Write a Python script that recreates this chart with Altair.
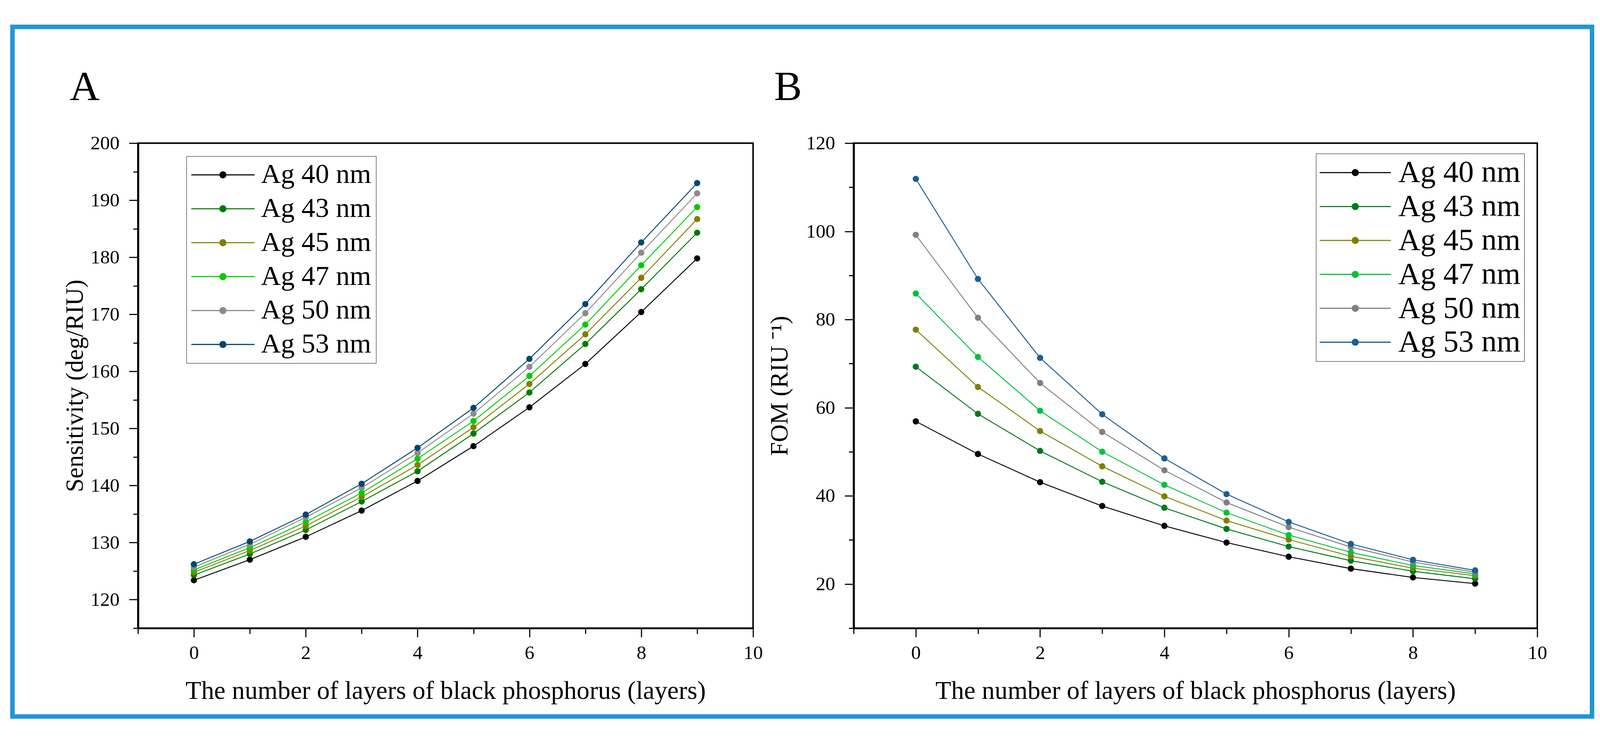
import altair as alt
import pandas as pd

layers = [0, 1, 2, 3, 4, 5, 6, 7, 8, 9]
series = ["Ag 40 nm", "Ag 43 nm", "Ag 45 nm", "Ag 47 nm", "Ag 50 nm", "Ag 53 nm"]

# Panel A: sensitivity (deg/RIU)
sens_40 = [123.4, 127.0, 131.0, 135.6, 140.8, 146.9, 153.7, 161.3, 170.4, 179.8]
sens_43 = [124.3, 128.0, 132.2, 137.2, 142.5, 149.1, 156.3, 164.8, 174.4, 184.3]
sens_45 = [124.8, 128.6, 132.9, 138.0, 143.6, 150.2, 157.8, 166.5, 176.4, 186.7]
sens_47 = [125.2, 129.1, 133.6, 138.7, 144.7, 151.3, 159.2, 168.2, 178.6, 188.8]
sens_50 = [125.7, 129.7, 134.4, 139.6, 145.7, 152.6, 160.8, 170.2, 180.8, 191.2]
sens_53 = [126.2, 130.2, 134.9, 140.3, 146.6, 153.6, 162.2, 171.8, 182.6, 193.0]

# Panel B: FOM (RIU^-1)
fom_40 = [56.9, 49.5, 43.1, 37.7, 33.2, 29.4, 26.2, 23.5, 21.5, 20.1]
fom_43 = [69.3, 58.6, 50.2, 43.2, 37.3, 32.5, 28.5, 25.3, 22.9, 21.2]
fom_45 = [77.7, 64.7, 54.7, 46.7, 39.9, 34.4, 30.1, 26.3, 23.6, 21.9]
fom_47 = [85.9, 71.5, 59.3, 50.0, 42.5, 36.2, 31.1, 27.2, 24.2, 22.3]
fom_50 = [99.2, 80.4, 65.6, 54.5, 45.8, 38.5, 32.9, 28.4, 25.0, 22.7]
fom_53 = [111.9, 89.2, 71.3, 58.5, 48.5, 40.4, 34.1, 29.1, 25.5, 23.1]

x_major = [0, 2, 4, 6, 8, 10]
x_minor = [-1, 1, 3, 5, 7, 9]
ya_major = [120, 130, 140, 150, 160, 170, 180, 190, 200]
ya_minor = [115, 125, 135, 145, 155, 165, 175, 185, 195]
yb_major = [20, 40, 60, 80, 100, 120]
yb_minor = [10, 30, 50, 70, 90, 110]

colors_a = ["#000000", "#007A00", "#808000", "#00CC00", "#8C8C8C", "#00476E"]
colors_b = ["#000000", "#007A1E", "#808000", "#00C040", "#808080", "#1A5E94"]

FONT = "Liberation Serif"
X_TITLE = "The number of layers of black phosphorus (layers)"


def long_df(cols):
    rows = []
    for name, vals in zip(series, cols):
        for l, v in zip(layers, vals):
            rows.append({"layer": l, "value": v, "series": name})
    return pd.DataFrame(rows)


def sym_path(unit_px, half_len_px, radius_px, half_thick_px):
    L = round(half_len_px / unit_px, 4)
    r = round(radius_px / unit_px, 4)
    t = round(half_thick_px / unit_px, 4)
    return (f"M{-L},{-t}H{-r}V{t}H{-L}Z M{r},{-t}H{L}V{t}H{r}Z "
            f"M{-r},0A{r},{r},0,1,0,{r},0A{r},{r},0,1,0,{-r},0Z")


def legend_kw(x, y, font_size, half_len, gap, row_pad, pad):
    s = font_size  # symbol box = label height
    return dict(title=None, orient="none", legendX=x, legendY=y,
                symbolType=sym_path(s / 2, half_len, 9.5, 1.5), symbolSize=s * s,
                symbolOffset=half_len - s / 2, symbolStrokeWidth=0, symbolOpacity=1,
                labelFont=FONT, labelFontSize=font_size,
                labelOffset=half_len + gap - s / 2, labelLimit=1000,
                rowPadding=row_pad, padding=pad, strokeColor="black",
                fillColor="white", labelColor="black")


def panel(df, ydom, ymaj, ymin, ytitle, ytitle_x, colors, leg, letter, letter_x,
          width, height, frame=None):
    xs = alt.Scale(domain=[-1, 10], nice=False, zero=False)
    ys = alt.Scale(domain=ydom, nice=False, zero=False)
    base = alt.Chart(df)
    line = base.mark_line(strokeWidth=2.5).encode(
        x=alt.X("layer:Q", scale=xs, axis=alt.Axis(
            values=x_major, title=X_TITLE, orient="bottom", grid=False,
            tickSize=24, tickWidth=3, domainWidth=4.5, labelFontSize=52,
            labelPadding=17, titleFontSize=69, titleY=168, titleBaseline="middle",
            labelFlush=False, labelOverlap=False, titleFontWeight="normal")),
        y=alt.Y("value:Q", scale=ys, axis=alt.Axis(
            values=ymaj, title=ytitle, orient="left", grid=False,
            tickSize=24, tickWidth=3, domainWidth=5.5, labelFontSize=52,
            labelPadding=26, titleFontSize=66, titleX=ytitle_x,
            titleBaseline="middle", labelFlush=False, labelOverlap=False,
            titleFontWeight="normal")),
        stroke=alt.Stroke("series:N", scale=alt.Scale(range=colors), legend=None),
        order=alt.Order("layer:Q"),
    )
    pts = base.mark_circle(size=280, opacity=1).encode(
        x=alt.X("layer:Q", scale=xs, axis=alt.Axis(
            values=x_minor, labels=False, domain=False, tickSize=15, tickWidth=3,
            title=None, orient="bottom", grid=False)),
        y=alt.Y("value:Q", scale=ys, axis=alt.Axis(
            values=ymin, labels=False, domain=False, tickSize=13, tickWidth=3,
            title=None, orient="left", grid=False)),
        color=alt.Color("series:N", scale=alt.Scale(domain=series, range=colors),
                        legend=alt.Legend(**leg)),
    )
    one = pd.DataFrame({"t": [letter]})
    txt = alt.Chart(one).mark_text(fontSize=112, font=FONT, align="center",
                                   baseline="alphabetic", color="black").encode(
        x=alt.value(letter_x), y=alt.value(-116), text="t:N")
    parts = []
    if frame is not None:
        fr = alt.Chart(pd.DataFrame({"f": [0]})).mark_rect(
            fillOpacity=0, stroke="#2196D3", strokeWidth=12).encode(
            x=alt.value(frame[0]), x2=alt.value(frame[1]),
            y=alt.value(frame[2]), y2=alt.value(frame[3]))
        parts.append(fr)
    parts += [line, pts, txt]
    return alt.layer(*parts).resolve_axis(x="independent", y="independent").properties(
        width=width, height=height)


leg_a = legend_kw(130, 35, 74, 85, 17, 17, 13)
leg_b = legend_kw(1241, 28, 82, 95.5, 20, 9, 10)

pa = panel(long_df([sens_40, sens_43, sens_45, sens_47, sens_50, sens_53]),
           [115, 200], ya_major, ya_minor, "Sensitivity (deg/RIU)", -169, colors_a,
           leg_a, "A", -143, 1651, 1301, frame=(-337, 3903, -312, 1538))
pb = panel(long_df([fom_40, fom_43, fom_45, fom_47, fom_50, fom_53]),
           [10, 120], yb_major, yb_minor, "FOM (RIU \u207b\u00b9)", -198, colors_b,
           leg_b, "B", -176, 1835, 1301)

chart = alt.hconcat(pa, pb, spacing=270, bounds="flush").resolve_scale(
    color="independent", stroke="independent"
).properties(
    padding={"left": 17, "top": 10, "right": 5, "bottom": 5},
    background="white",
).configure(font=FONT).configure_view(
    stroke="black", strokeWidth=4
).configure_axis(
    labelFont=FONT, titleFont=FONT, labelColor="black", titleColor="black",
    domainColor="black", tickColor="black", titleFontWeight="normal"
).configure_legend(labelFont=FONT)

chart.save("out.html", embed_options={"renderer": "svg", "actions": False})
